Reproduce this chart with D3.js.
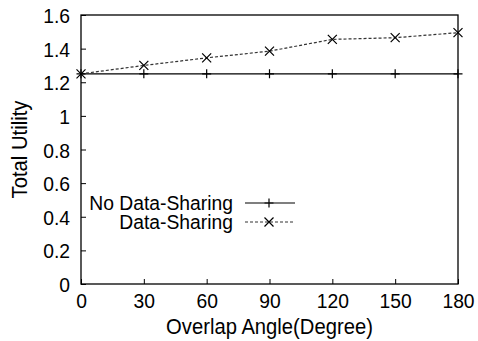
<!DOCTYPE html>
<html><head><meta charset="utf-8">
<script src="https://cdn.jsdelivr.net/npm/d3@7"></script>
<style>body{margin:0;background:#fff}svg{display:block}text{font-family:"Liberation Sans",Arial,sans-serif;fill:#000}</style>
</head><body>
<script>
const angles = [0, 30, 60, 90, 120, 150, 180];
const noSharing = [1.25, 1.25, 1.25, 1.25, 1.25, 1.25, 1.25];
const sharing = [1.25, 1.30, 1.345, 1.385, 1.455, 1.465, 1.495];
const yTicks = [0, 0.2, 0.4, 0.6, 0.8, 1, 1.2, 1.4, 1.6];
const seriesNames = ["No Data-Sharing", "Data-Sharing"];

const W = 478, H = 341, SX = 0.92;
const m = {l: 81, r: 20, t: 15, b: 57};
const svg = d3.select("body").append("svg").attr("width", W).attr("height", H);
const x = d3.scaleLinear().domain([0, 180]).range([m.l, W - m.r]);
const y = d3.scaleLinear().domain([0, 1.6]).range([H - m.b, m.t]);

function compress(sel) {
  sel.each(function () {
    const t = d3.select(this);
    const ax = +t.attr("x") || 0;
    t.attr("transform", `translate(${ax},0) scale(${SX},1) translate(${-ax},0)`);
  });
}

// frame
svg.append("rect").attr("x", x(0)).attr("y", y(1.6)).attr("width", x(180) - x(0)).attr("height", y(0) - y(1.6))
  .attr("fill", "none").attr("stroke", "#000").attr("stroke-width", 1.3);

// axes with inward ticks
const xa = svg.append("g").attr("transform", `translate(0,${y(0)})`)
  .call(d3.axisBottom(x).tickValues(angles).tickSizeInner(-5).tickSizeOuter(0).tickPadding(9).tickFormat(d3.format("d")));
const ya = svg.append("g").attr("transform", `translate(${x(0)},0)`)
  .call(d3.axisLeft(y).tickValues(yTicks).tickSizeInner(-5).tickSizeOuter(0).tickPadding(11).tickFormat(d => d3.format("")(d)));
[xa, ya].forEach(g => {
  g.select(".domain").remove();
  g.selectAll("line").attr("stroke", "#000").attr("stroke-width", 1);
  g.selectAll("text").style("font-family", '"Liberation Sans",Arial,sans-serif').style("font-size", "21px").attr("fill", "#000");
});
ya.selectAll("text").attr("dy", "0.36em");
xa.selectAll("text").attr("dy", "0.72em");
compress(xa.selectAll("text"));
compress(ya.selectAll("text"));

const line = d3.line().x((d, i) => x(angles[i])).y(d => y(d));
svg.append("path").datum(noSharing).attr("d", line).attr("fill", "none").attr("stroke", "#000").attr("stroke-width", 1.3);
svg.append("path").datum(sharing).attr("d", line).attr("fill", "none").attr("stroke", "#333").attr("stroke-width", 1.2).attr("stroke-dasharray", "3,2");

const plus = (g, cx, cy, s) => g.append("path").attr("d", `M${cx - s},${cy}H${cx + s}M${cx},${cy - s}V${cy + s}`).attr("stroke", "#000").attr("stroke-width", 1.2);
const cross = (g, cx, cy, s) => g.append("path").attr("d", `M${cx - s},${cy - s}L${cx + s},${cy + s}M${cx - s},${cy + s}L${cx + s},${cy - s}`).attr("stroke", "#000").attr("stroke-width", 1.2);

noSharing.forEach((v, i) => plus(svg, x(angles[i]), y(v), 4.5));
sharing.forEach((v, i) => cross(svg, x(angles[i]), y(v), 4.5));

// legend
const lg = svg.append("g");
[0, 1].forEach(i => {
  const ly = 203 + i * 19;
  const t = lg.append("text").attr("x", 233).attr("y", ly + 7).attr("text-anchor", "end")
    .style("font-size", "21px").text(seriesNames[i]);
  compress(t);
  lg.append("line").attr("x1", 245).attr("x2", 295).attr("y1", ly).attr("y2", ly)
    .attr("stroke", i ? "#333" : "#000").attr("stroke-width", 1.2).attr("stroke-dasharray", i ? "3,2" : null);
  if (i) cross(lg, 269, ly, 4.5); else plus(lg, 269, ly, 4.5);
});

// titles
const xt = svg.append("text").attr("x", (x(0) + x(180)) / 2).attr("y", 334).attr("text-anchor", "middle").style("font-size", "22px").text("Overlap Angle(Degree)");
compress(xt);
svg.append("text").attr("transform", `translate(27,${(y(0) + y(1.6)) / 2}) rotate(-90) scale(${SX},1)`).attr("text-anchor", "middle").style("font-size", "22px").text("Total Utility");
</script>
</body></html>
